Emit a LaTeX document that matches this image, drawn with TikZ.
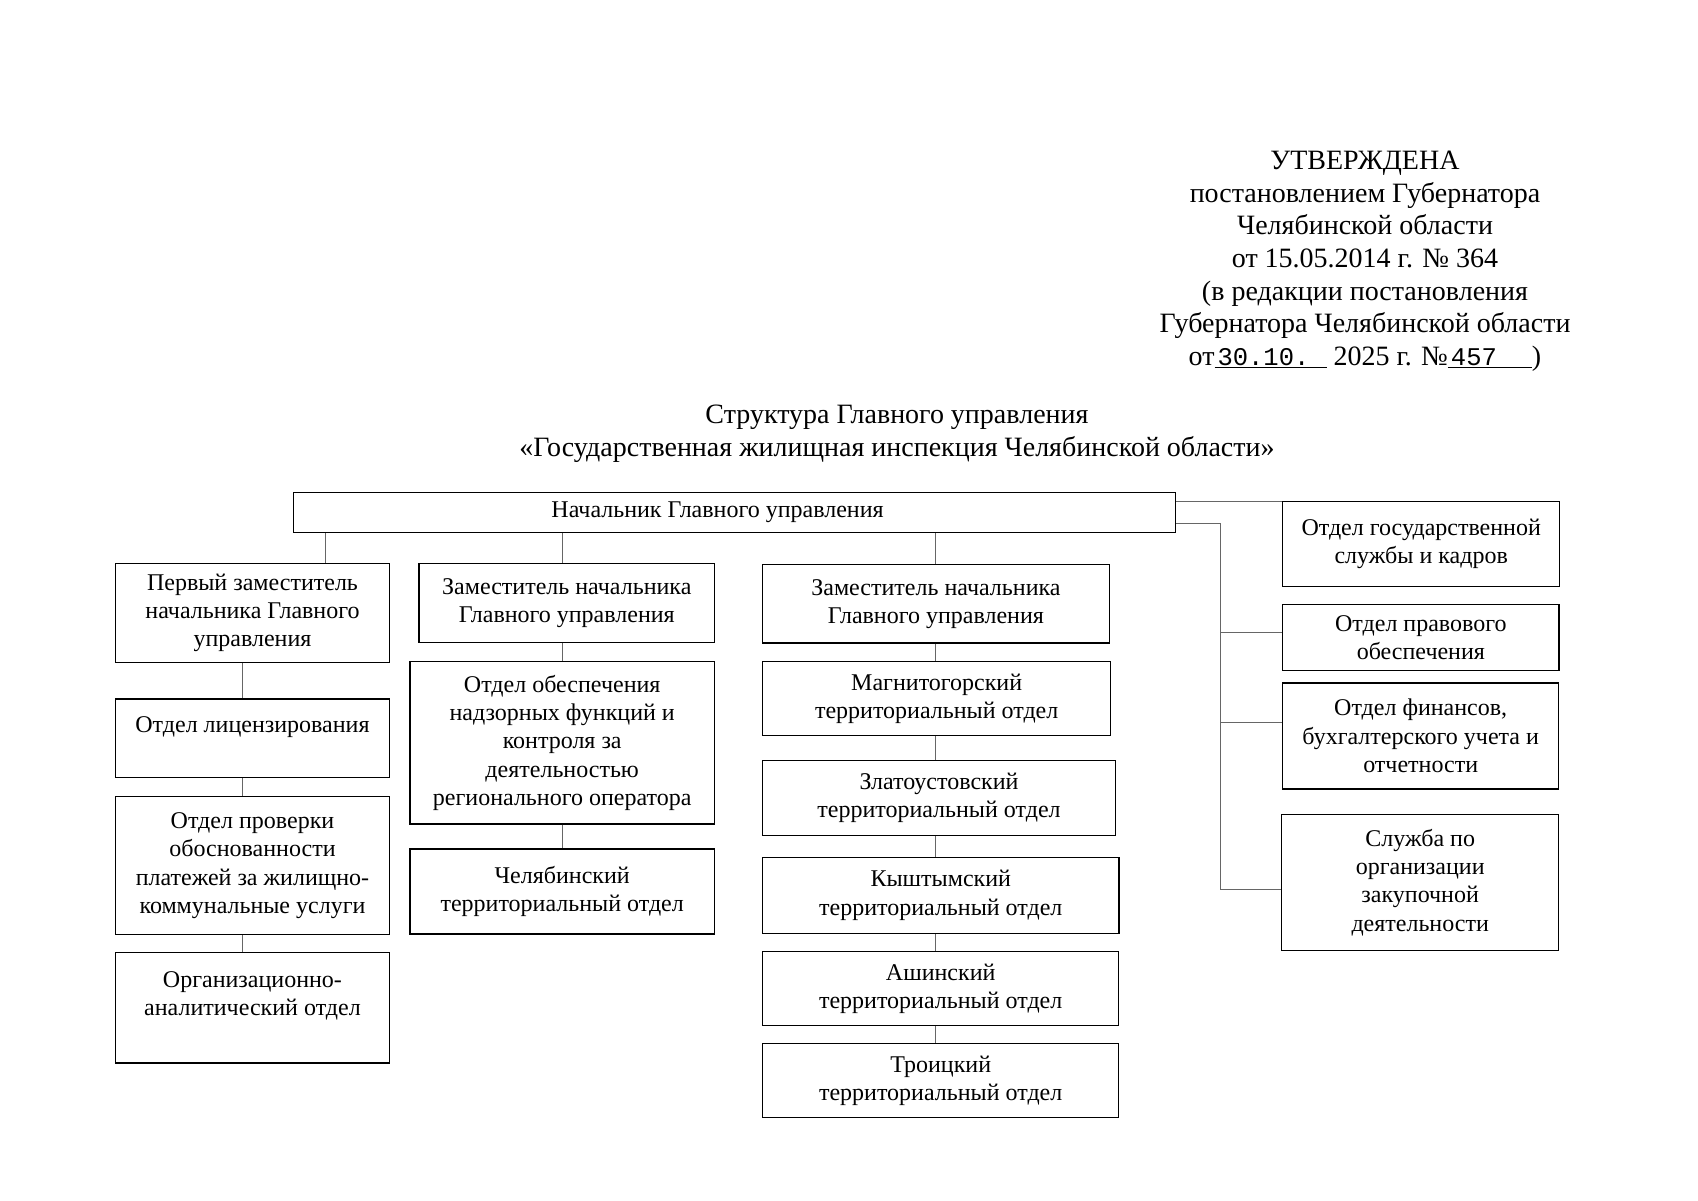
\documentclass[tikz,border=0pt]{standalone}
\usepackage{fontspec}
\setmainfont{Liberation Serif}
\setmonofont{Liberation Mono}
\usepackage{tikz}
\usetikzlibrary{positioning}
\newcommand{\boxfont}{\fontsize{24}{28.3}\selectfont}
\newcommand{\headfont}{\fontsize{28}{32.6}\selectfont}
\newcommand{\filled}[2]{\underline{\makebox[#1][l]{\hspace{3pt}\ttfamily\fontsize{25.5}{32.6}\selectfont #2}}}

\begin{document}
\begin{tikzpicture}[x=1pt, y=-1pt, unit/.style={draw, line width=1.4pt, rectangle, align=center, inner sep=0pt, anchor=north west, font=\boxfont}, link/.style={draw=black!60, line width=1pt}]
\path[fill=white] (0,0) rectangle (1698,1200);
% approval stamp and title
\node[align=center, font=\headfont, anchor=north, inner sep=0pt] (approval) at (1365,151) {УТВЕРЖДЕНА\\ постановлением Губернатора\\ Челябинской области\\ от 15.05.2014 г. № 364\\ (в редакции постановления\\ Губернатора Челябинской области\\ от\filled{112pt}{30.10.} 2025 г. №\filled{84pt}{457})};
\node[align=center, font=\headfont, anchor=north, inner sep=0pt] (title) at (897,405) {Структура Главного управления\\ «Государственная жилищная инспекция Челябинской области»};
% head
\node[unit, minimum width=882.3pt, minimum height=40pt] (head) at (292.7,491.7) {Начальник Главного управления\hspace*{34pt}};
% first deputy
\node[unit, minimum width=273.6pt, minimum height=99pt] (dep1) at (115,562.7) {Первый заместитель\\ начальника Главного\\ управления};
\node[unit, minimum width=273.6pt, minimum height=78.4pt] (lic) at (115,698.3) {Отдел лицензирования\\ ~};
\node[unit, minimum width=273.6pt, minimum height=138.3pt] (pay) at (115,795.7) {Отдел проверки\\ обоснованности\\ платежей за жилищно-\\ коммунальные услуги};
\node[unit, minimum width=273.6pt, minimum height=110.6pt] (orgd) at (115,951.7) {Организационно-\\ аналитический отдел\\ ~};
% second deputy
\node[unit, minimum width=295.4pt, minimum height=79pt] (dep2) at (418.4,562.7) {Заместитель начальника\\ Главного управления};
\node[unit, minimum width=304.6pt, minimum height=162.3pt] (supv) at (409.2,661) {Отдел обеспечения\\ надзорных функций и\\ контроля за\\ деятельностью\\ регионального оператора};
\node[unit, minimum width=304.6pt, minimum height=85pt] (chel) at (409.2,848.3) {Челябинский\\ территориальный отдел};
% third deputy
\node[unit, minimum width=346.5pt, minimum height=78.3pt] (dep3) at (762,564) {Заместитель начальника\\ Главного управления};
\node[unit, minimum width=348pt, minimum height=74.3pt] (magn) at (762,660.7) {Магнитогорский\\ территориальный отдел};
\node[unit, minimum width=352.6pt, minimum height=74.7pt] (zlat) at (762,760) {Златоустовский\\ территориальный отдел};
\node[unit, minimum width=356.2pt, minimum height=76pt] (kysh) at (762,856.7) {Кыштымский\\ территориальный отдел};
\node[unit, minimum width=356pt, minimum height=74.3pt] (asha) at (762,950.7) {Ашинский\\ территориальный отдел};
\node[unit, minimum width=356pt, minimum height=74.3pt] (troi) at (762,1042.7) {Троицкий\\ территориальный отдел};
% directly subordinate
\node[unit, minimum width=277pt, minimum height=84.7pt] (staff) at (1282,501) {Отдел государственной\\ службы и кадров};
\node[unit, minimum width=276.3pt, minimum height=66.3pt] (law) at (1282,603.7) {Отдел правового\\ обеспечения};
\node[unit, minimum width=276pt, minimum height=106pt] (fin) at (1282,682.3) {Отдел финансов,\\ бухгалтерского учета и\\ отчетности};
\node[unit, minimum width=277pt, minimum height=136.3pt] (buy) at (1281,813.7) {Служба по\\ организации\\ закупочной\\ деятельности};
% links
\coordinate (tap1) at ([xshift=73pt]dep1.north);
\draw[link] (tap1) -- (tap1 |- head.south);
\foreach \src/\dst in {dep1/lic, lic/pay, pay/orgd}
  \draw[link] ([xshift=-10pt]\src.south) -- ([xshift=-10pt]\dst.north);
\draw[link] (head.south -| supv.north) -- (dep2.north -| supv.north);
\draw[link] (dep2.south -| supv.north) -- (supv.north);
\draw[link] (supv.south) -- (chel.north);
\draw[link] (head.south -| dep3.north) -- (dep3.north);
\foreach \src/\dst in {dep3/magn, magn/zlat, zlat/kysh, kysh/asha, asha/troi}
  \draw[link] (\src.south -| dep3.south) -- (\dst.north -| dep3.south);
\draw[link] (head.east |- staff.north west) -- (staff.north west);
\coordinate (bus) at ([yshift=-11pt]head.east);
\coordinate (trunk) at (1220.4,0);
\coordinate (tolaw) at ([yshift=5pt]law.west);
\coordinate (tofin) at ([yshift=13.6pt]fin.west);
\coordinate (tobuy) at ([yshift=-6.5pt]buy.west);
\draw[link] (bus) -- (bus -| trunk) -- (trunk |- tobuy) -- (tobuy);
\foreach \target in {tolaw, tofin}
  \draw[link] (trunk |- \target) -- (\target);
\end{tikzpicture}
\end{document}
